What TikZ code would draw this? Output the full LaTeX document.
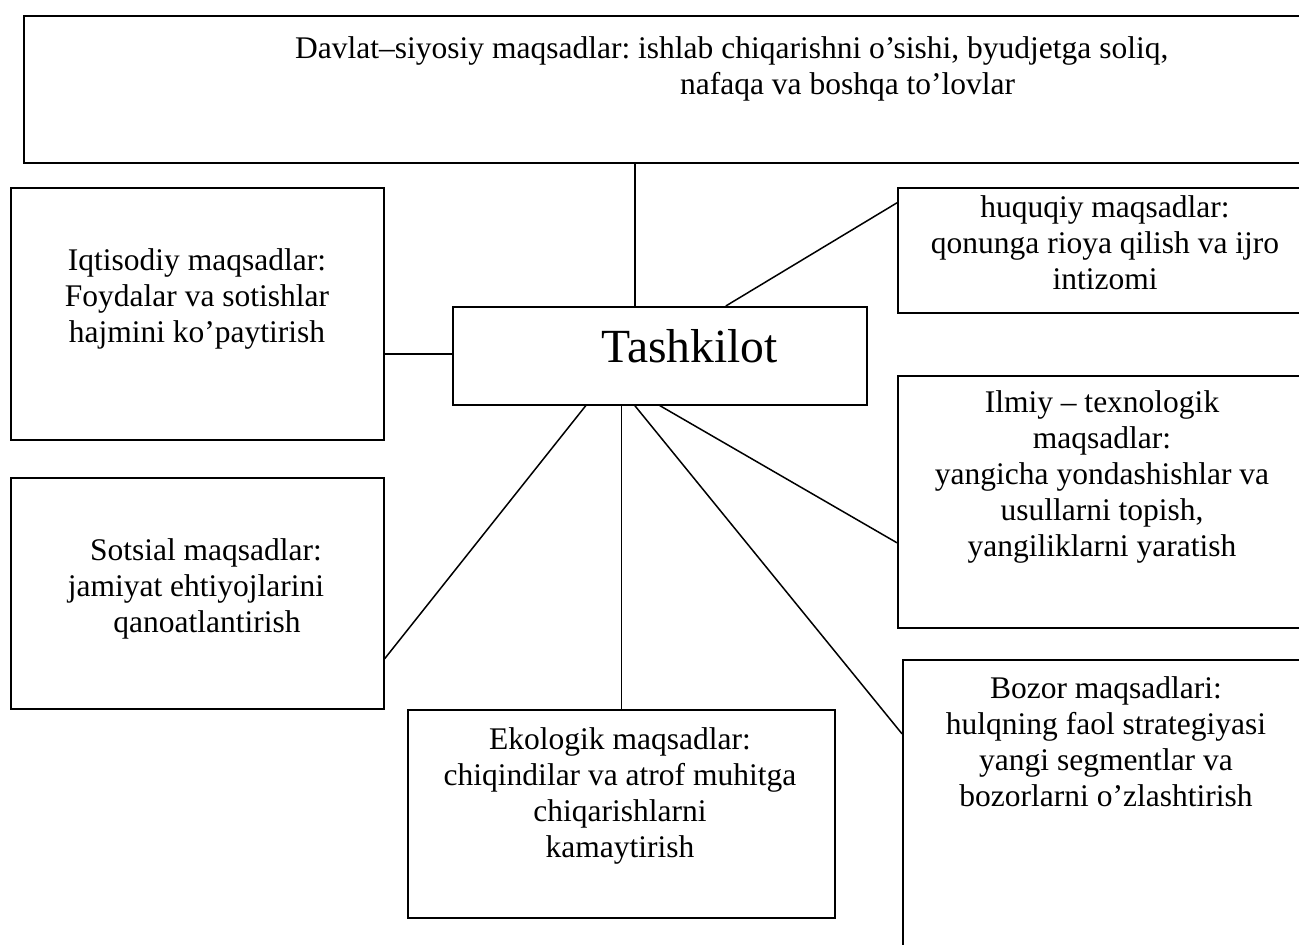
\documentclass[tikz,border=0pt]{standalone}
\usepackage{fontspec}
\setmainfont{Liberation Serif}
\usetikzlibrary{calc}
\begin{document}
\frenchspacing
\begin{tikzpicture}[x=1pt,y=-1pt,
  goalbox/.style={draw,line width=1.6pt,rectangle,inner sep=0pt,anchor=north west},
  goaltext/.style={align=center,anchor=base,inner sep=0pt,font=\fontsize{31.5}{35.8}\selectfont},
  link/.style={line width=1.5pt}]
\useasboundingbox (0,0) rectangle (1299,945);
\clip (0,0) rectangle (1299,945);
\fill[white] (0,0) rectangle (1299,945);

% frames
\node[goalbox,minimum width=1290pt,minimum height=147pt] (davlat) at (23,15) {};
\node[goalbox,minimum width=373pt,minimum height=252pt] (iqt) at (10,187) {};
\node[goalbox,minimum width=373pt,minimum height=231pt] (sots) at (10,477) {};
\node[goalbox,minimum width=427pt,minimum height=208pt] (eko) at (407,709) {};
\node[goalbox,minimum width=414pt,minimum height=98pt] (tash) at (452,306) {};
\node[goalbox,minimum width=420pt,minimum height=125pt] (huq) at (897,187) {};
\node[goalbox,minimum width=420pt,minimum height=252pt] (ilm) at (897,375) {};
\node[goalbox,minimum width=420pt,minimum height=301pt] (boz) at (902,659) {};

% texts (each node is anchored at the baseline of its last line)
\node[goaltext,align=left,anchor=base west] (davlatT) at (295,94)
  {Davlat–siyosiy maqsadlar: ishlab chiqarishni o’sishi, byudjetga soliq,\\
   \hspace*{385pt}nafaqa va boshqa to’lovlar};
\node[goaltext] (iqtT) at (197,342)
  {Iqtisodiy maqsadlar:\\ Foydalar va sotishlar\\ hajmini ko’paytirish};
\node[goaltext] (sotsT) at (196,632)
  {\hspace*{20pt}Sotsial maqsadlar:\\ jamiyat ehtiyojlarini\\ \hspace*{22pt}qanoatlantirish};
\node[goaltext] (ekoT) at (620,857)
  {Ekologik maqsadlar:\\ chiqindilar va atrof muhitga\\ chiqarishlarni\\ kamaytirish};
\node[goaltext] (huqT) at (1105,289)
  {huquqiy maqsadlar:\\ qonunga rioya qilish va ijro\\ intizomi};
\node[goaltext] (ilmT) at (1102,556)
  {Ilmiy – texnologik\\ maqsadlar:\\ yangicha yondashishlar va\\ usullarni topish,\\ yangiliklarni yaratish};
\node[goaltext] (bozT) at (1106,806)
  {Bozor maqsadlari:\\ hulqning faol strategiyasi\\ yangi segmentlar va\\ bozorlarni o’zlashtirish};
\node[anchor=base west,inner sep=0pt,font=\fontsize{47.6}{52}\selectfont] (tashT) at (601,362) {Tashkilot};

% connectors
\draw[link] ([xshift=-25pt]tash.north) -- ([xshift=-25pt]tash.north |- davlat.south);
\draw[link] ([xshift=66pt]tash.north) -- ([yshift=47.5pt]huq.west);
\draw[link] ([yshift=2pt]tash.west) -- ([yshift=2pt]tash.west -| iqt.east);
\draw[link] ([xshift=-74pt]tash.south) -- ([yshift=-65.5pt]sots.east);
\draw[link] (eko.north) -- (eko.north |- tash.south);
\draw[link] (tash.south) -- ([yshift=-41pt]ilm.west);
\draw[link] ([xshift=-25pt]tash.south) -- ([yshift=76.5pt]boz.west);
\end{tikzpicture}
\end{document}
